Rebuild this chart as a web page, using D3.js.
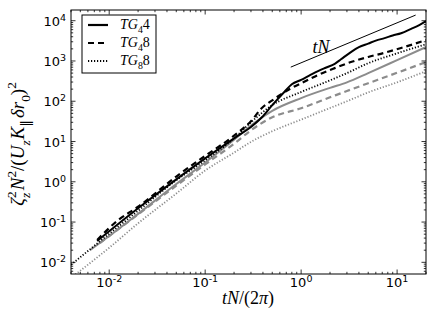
<!DOCTYPE html>
<html><head><meta charset="utf-8">
<script src="https://cdn.jsdelivr.net/npm/d3@7"></script>
<style>body{margin:0;background:#fff} svg{display:block}</style>
</head><body><svg id="c" width="436" height="327"></svg>
<script>
// ---- data ----
const xTickExps = [-2, -1, 0, 1];
const yTickExps = [-2, -1, 0, 1, 2, 3, 4];
const legendLabels = ["TG44", "TG48", "TG88"];

const blackSolidX = [0.0075, 0.02, 0.05, 0.1, 0.2, 0.3, 0.39, 0.5, 0.675, 0.8, 1.0, 1.25, 1.5, 1.8, 2.24, 2.6, 3.3, 4, 5, 6, 7.4, 9, 11, 14, 17, 20];
const blackSolidY = [0.034, 0.22, 1.15, 3.8, 12, 23, 40, 80, 175, 265, 340, 450, 560, 680, 850, 1100, 1660, 2200, 2700, 3200, 3700, 4300, 4900, 6300, 7800, 9800];

const blackDashX = [0.0075, 0.0123, 0.02, 0.05, 0.1, 0.2, 0.3, 0.39, 0.5, 0.675, 0.8, 1.0, 1.5, 2.24, 3.3, 5, 7.4, 11, 20];
const blackDashY = [0.036, 0.11, 0.24, 1.35, 4.4, 14, 32, 68, 105, 170, 215, 280, 450, 665, 940, 1260, 1600, 2100, 3300];

const blackDotX = [0.004, 0.01, 0.02, 0.05, 0.1, 0.2, 0.3, 0.5, 1.0, 2.0, 3, 5, 10, 20];
const blackDotY = [0.0087, 0.051, 0.19, 1.09, 3.4, 12, 30, 80, 170, 330, 500, 880, 1550, 2600];

const graySolidX = [0.0063, 0.01, 0.02, 0.05, 0.1, 0.2, 0.3, 0.5, 1, 2, 3, 5, 10, 20];
const graySolidY = [0.020, 0.045, 0.16, 0.88, 3.0, 11, 25, 58, 120, 215, 295, 500, 1050, 2220];

const grayDashX = [0.008, 0.01, 0.02, 0.05, 0.1, 0.2, 0.3, 0.5, 1, 2, 3, 5, 10, 20];
const grayDashY = [0.030, 0.045, 0.155, 0.8, 2.7, 8.8, 19, 40, 67, 125, 180, 280, 510, 940];

const grayDotX = [0.0042, 0.01, 0.02, 0.05, 0.1, 0.2, 0.3, 0.5, 1, 2, 3, 5, 10, 20];
const grayDotY = [0.0045, 0.023, 0.093, 0.51, 1.9, 5.3, 9.8, 18, 35, 68, 100, 166, 295, 560];

const refLineX = [0.78, 15.6];
const refLineY = [704, 13800];

// ---- layout ----
const L = 71, R = 426, T = 10, B = 274;
const svg = d3.select("#c");
const x = d3.scaleLog().domain([0.004, 20]).range([L, R]);
const y = d3.scaleLog().domain([Math.pow(10, -2.29), Math.pow(10, 4.266)]).range([B, T]);

svg.append("defs").append("clipPath").attr("id", "clip")
  .append("rect").attr("x", L).attr("y", T).attr("width", R - L).attr("height", B - T);

const GRAY = "#8c8c8c";
const series = [
  {xs: grayDotX, ys: grayDotY, color: GRAY, dash: "1.2,1.8", w: 1.8},
  {xs: grayDashX, ys: grayDashY, color: GRAY, dash: "6,4", w: 2.2},
  {xs: graySolidX, ys: graySolidY, color: GRAY, dash: null, w: 2},
  {xs: blackDotX, ys: blackDotY, color: "#000", dash: "1.2,1.8", w: 1.8},
  {xs: blackDashX, ys: blackDashY, color: "#000", dash: "6,4", w: 2.2},
  {xs: blackSolidX, ys: blackSolidY, color: "#000", dash: null, w: 2},
];
const line = d3.line().x(d => x(d[0])).y(d => y(d[1])).curve(d3.curveMonotoneX);
const g = svg.append("g").attr("clip-path", "url(#clip)");
series.forEach(s => {
  g.append("path").datum(s.xs.map((v, i) => [v, s.ys[i]]))
    .attr("d", line).attr("fill", "none").attr("stroke", s.color)
    .attr("stroke-width", s.w).attr("stroke-dasharray", s.dash);
});
g.append("path").datum(refLineX.map((v, i) => [v, refLineY[i]]))
  .attr("d", d3.line().x(d => x(d[0])).y(d => y(d[1]))).attr("fill", "none").attr("stroke", "#000").attr("stroke-width", 1);

svg.append("text").attr("x", 321).attr("y", 53).attr("text-anchor", "middle")
  .attr("font-family", "Liberation Serif").attr("font-style", "italic").attr("font-size", 18).text("tN");

// ---- ticks ----
const tk = svg.append("g").attr("stroke", "#000").attr("stroke-width", 0.8);
function xTicksAt(v, len) {
  const px = x(v);
  tk.append("line").attr("x1", px).attr("x2", px).attr("y1", B).attr("y2", B - len);
  tk.append("line").attr("x1", px).attr("x2", px).attr("y1", T).attr("y2", T + len);
}
function yTicksAt(v, len) {
  const py = y(v);
  tk.append("line").attr("y1", py).attr("y2", py).attr("x1", L).attr("x2", L + len);
  tk.append("line").attr("y1", py).attr("y2", py).attr("x1", R).attr("x2", R - len);
}
for (let e = -3; e <= 1; e++) for (let m = 1; m <= 9; m++) {
  const v = m * Math.pow(10, e);
  if (v < 0.004 || v > 20) continue;
  xTicksAt(v, m === 1 ? 4.5 : 2.2);
}
for (let e = -3; e <= 4; e++) for (let m = 1; m <= 9; m++) {
  const v = m * Math.pow(10, e);
  if (v < y.domain()[0] || v > y.domain()[1]) continue;
  yTicksAt(v, m === 1 ? 4.5 : 2.2);
}
svg.append("rect").attr("x", L).attr("y", T).attr("width", R - L).attr("height", B - T)
  .attr("fill", "none").attr("stroke", "#000").attr("stroke-width", 1);

// tick labels
const tf = "DejaVu Sans";
xTickExps.forEach(e => {
  const t = svg.append("text").attr("x", x(Math.pow(10, e))).attr("y", 287)
    .attr("text-anchor", "middle").attr("font-family", tf).attr("font-size", 13);
  t.append("tspan").text("10");
  t.append("tspan").text(String(e)).attr("font-size", 9.5).attr("dy", -5);
});
yTickExps.forEach(e => {
  const t = svg.append("text").attr("x", 66).attr("y", y(Math.pow(10, e)) + 5)
    .attr("text-anchor", "end").attr("font-family", tf).attr("font-size", 13);
  t.append("tspan").text("10");
  t.append("tspan").text(String(e)).attr("font-size", 9.5).attr("dy", -5);
});

// rich text helper
function rich(sel, parts, size) {
  let cur = 0;
  parts.forEach(p => {
    const [s, kind, ital, dx, fam] = p;
    const target = kind === "sub" ? 0.3 * size : kind === "sup" ? -0.42 * size : 0;
    const ts = sel.append("tspan").text(s).attr("dy", target - cur).attr("dx", dx || 0)
      .attr("font-size", kind === "n" ? size : size * 0.7)
      .attr("font-style", ital ? "italic" : "normal");
    if (fam) ts.attr("font-family", fam).attr("font-weight", "normal");
    cur = target;
  });
}

// axis labels
const xl = svg.append("text").attr("x", 248).attr("y", 304).attr("text-anchor", "middle")
  .attr("font-family", "Liberation Serif");
rich(xl, [["tN", "n", true], ["/(2", "n", false], ["π", "n", true], [")", "n", false]], 18);

const yl = svg.append("text").attr("transform", "translate(24,144) rotate(-90)")
  .attr("text-anchor", "middle").attr("font-family", "Liberation Serif");
rich(yl, [["ζ", "n", true], ["z", "sub", true], ["2", "sup", false, -5], ["N", "n", true, 1],
  ["2", "sup", false], ["/(", "n", false], ["U", "n", true], ["z", "sub", true], ["K", "n", true, 1],
  ["‖", "sub", false, 0, "DejaVu Serif"], ["δr", "n", true, 2], ["0", "sub", false], [")", "n", false], ["2", "sup", false]], 19);

// legend
const lg = svg.append("g");
lg.append("rect").attr("x", 82).attr("y", 15).attr("width", 74).attr("height", 58)
  .attr("fill", "#fff").attr("stroke", "#000").attr("stroke-width", 1);
const legDash = [null, "6,4", "1.2,1.8"];
legendLabels.forEach((lab, i) => {
  const yy = 25 + i * 18;
  lg.append("line").attr("x1", 88).attr("x2", 108).attr("y1", yy).attr("y2", yy)
    .attr("stroke", "#000").attr("stroke-width", i === 2 ? 1.8 : 2.2).attr("stroke-dasharray", legDash[i]);
  const t = lg.append("text").attr("x", 120).attr("y", yy + 4).attr("font-family", "Liberation Serif");
  rich(t, [["TG", "n", true], [lab[2], "sub", false], [lab[3], "n", false]], 14);
});
</script></body></html>
